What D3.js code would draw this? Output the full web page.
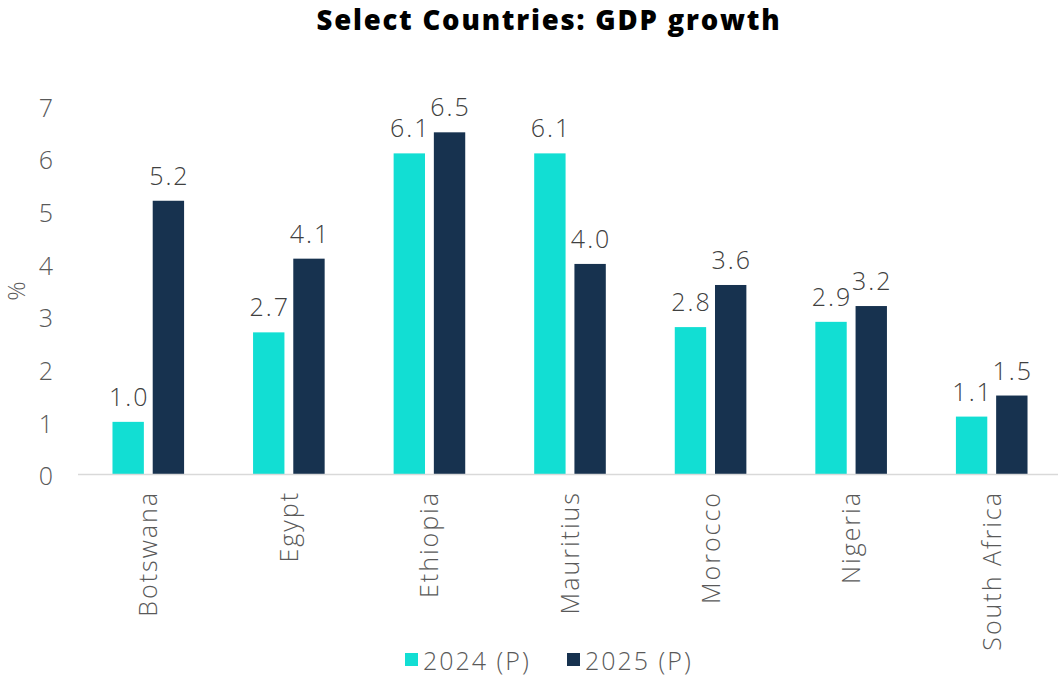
<!DOCTYPE html>
<html>
<head>
<meta charset="utf-8">
<script src="https://cdn.jsdelivr.net/npm/d3@7"></script>
<style>
  body { margin: 0; background: #fff; }
  svg { display: block; font-family: "Open Sans", sans-serif; }
  .lbl { font-weight: 300; letter-spacing: 2px; }
</style>
</head>
<body>
<div id="chart"></div>
<script>
// chart data
var countries = ["Botswana", "Egypt", "Ethiopia", "Mauritius", "Morocco", "Nigeria", "South Africa"];
var growth2024 = [1.0, 2.7, 6.1, 6.1, 2.8, 2.9, 1.1];
var growth2025 = [5.2, 4.1, 6.5, 4.0, 3.6, 3.2, 1.5];
var seriesNames = ["2024 (P)", "2025 (P)"];
var yTicks = [0, 1, 2, 3, 4, 5, 6, 7];

var width = 1058,
    height = 684;

var colors = ["#12ded3", "#17324f"];

var svg = d3.select("#chart").append("svg")
    .attr("width", width)
    .attr("height", height);

var x = d3.scaleBand()
    .domain(countries)
    .range([78, 1062]);

var x1 = d3.scaleBand()
    .domain([0, 1])
    .range([0, 71.6])
    .paddingInner(0.22);

var y = d3.scaleLinear()
    .domain([0, 7])
    .range([474.5, 106]);

// title
svg.append("text")
    .attr("x", 549)
    .attr("y", 30)
    .attr("text-anchor", "middle")
    .attr("font-size", 27.5)
    .attr("font-weight", "800")
    .attr("letter-spacing", "1.8px")
    .attr("fill", "#000")
    .text("Select Countries: GDP growth");

// y axis labels
svg.append("g").selectAll("text")
    .data(yTicks)
    .enter().append("text")
    .attr("class", "lbl")
    .attr("x", 55)
    .attr("y", function(d) { return y(d) + 2; })
    .attr("dy", "0.35em")
    .attr("text-anchor", "end")
    .attr("font-size", 25)
    .attr("fill", "#595959")
    .text(function(d) { return d; });

svg.append("text")
    .attr("class", "lbl")
    .attr("transform", "translate(25,290) rotate(-90)")
    .attr("text-anchor", "middle")
    .attr("font-size", 24)
    .attr("fill", "#595959")
    .text("%");

// bars
var groups = svg.append("g").selectAll("g")
    .data(countries)
    .enter().append("g")
    .attr("transform", function(d) {
        return "translate(" + (x(d) + x.bandwidth() / 2 - 35.8) + ",0)";
    });

groups.selectAll("rect")
    .data(function(d, i) { return [growth2024[i], growth2025[i]]; })
    .enter().append("rect")
    .attr("x", function(d, j) { return x1(j); })
    .attr("width", x1.bandwidth())
    .attr("y", function(d) { return y(d); })
    .attr("height", function(d) { return y(0) - y(d); })
    .attr("fill", function(d, j) { return colors[j]; });

groups.selectAll("text")
    .data(function(d, i) { return [growth2024[i], growth2025[i]]; })
    .enter().append("text")
    .attr("class", "lbl")
    .attr("x", function(d, j) { return x1(j) + x1.bandwidth() / 2 + 1; })
    .attr("y", function(d) { return y(d) - 16; })
    .attr("text-anchor", "middle")
    .attr("font-size", 25)
    .attr("fill", "#404040")
    .text(function(d) { return d.toFixed(1); });

// x axis line
svg.append("line")
    .attr("x1", 78)
    .attr("x2", width)
    .attr("y1", y(0))
    .attr("y2", y(0))
    .attr("stroke", "#d9d9d9")
    .attr("stroke-width", 1.5);

// category labels
svg.append("g").selectAll("text")
    .data(countries)
    .enter().append("text")
    .attr("class", "lbl")
    .attr("transform", function(d) {
        return "translate(" + (x(d) + x.bandwidth() / 2 + 9) + ",491) rotate(-90)";
    })
    .attr("text-anchor", "end")
    .attr("font-size", 25)
    .attr("fill", "#595959")
    .text(function(d) { return d; });

// legend
var legendX = [405, 567];
var legend = svg.append("g").selectAll("g")
    .data(seriesNames)
    .enter().append("g")
    .attr("transform", function(d, i) { return "translate(" + legendX[i] + ",653)"; });

legend.append("rect")
    .attr("width", 13)
    .attr("height", 13)
    .attr("fill", function(d, i) { return colors[i]; });

legend.append("text")
    .attr("class", "lbl")
    .attr("x", 18)
    .attr("y", 17)
    .attr("font-size", 25)
    .attr("fill", "#595959")
    .text(function(d) { return d; });
</script>
</body>
</html>
